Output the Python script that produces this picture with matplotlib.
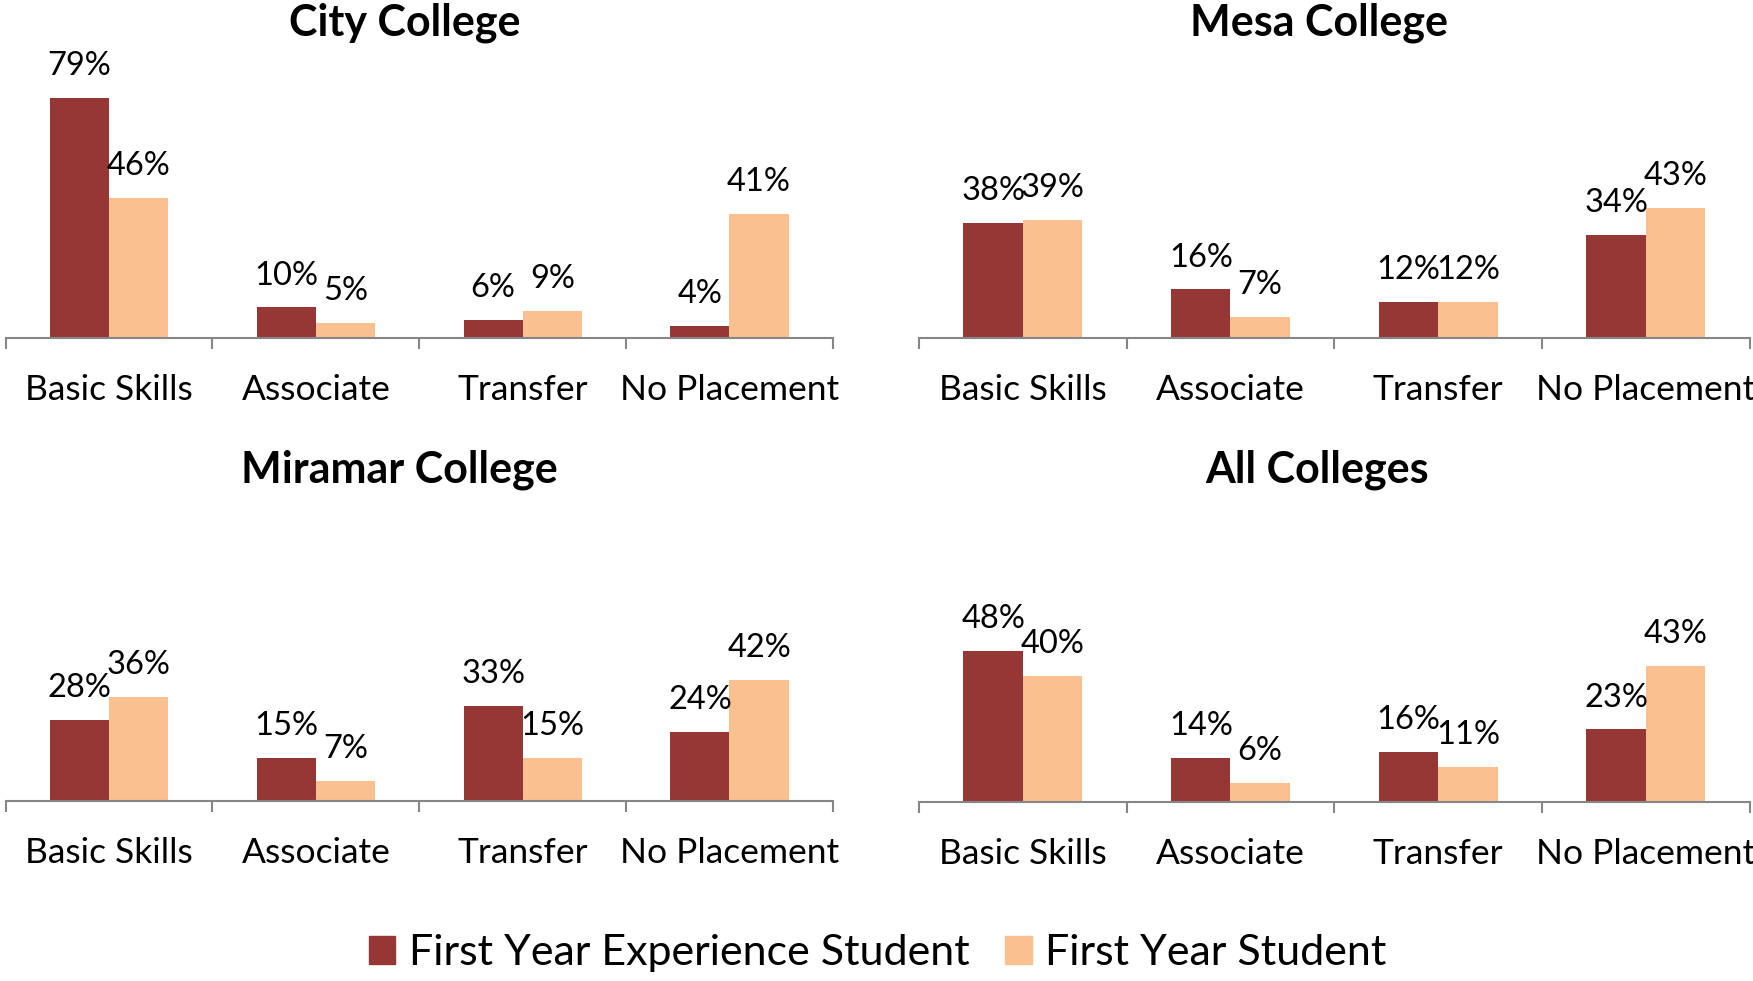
import matplotlib
matplotlib.use("Agg")
import matplotlib.pyplot as plt
from matplotlib.patches import Patch

plt.rcParams['font.family'] = ['Lato', 'DejaVu Sans']

# datos
categorias = ['Basic Skills', 'Associate', 'Transfer', 'No Placement']
series = ['First Year Experience Student', 'First Year Student']
colegios = ['City College', 'Mesa College', 'Miramar College', 'All Colleges']

city_fye = [79, 10, 6, 4]
city_fy = [46, 5, 9, 41]
mesa_fye = [38, 16, 12, 34]
mesa_fy = [39, 7, 12, 43]
miramar_fye = [28, 15, 33, 24]
miramar_fy = [36, 7, 15, 42]
all_fye = [48, 14, 16, 23]
all_fy = [40, 6, 11, 43]

valores = {
    'City College': (city_fye, city_fy),
    'Mesa College': (mesa_fye, mesa_fy),
    'Miramar College': (miramar_fye, miramar_fy),
    'All Colleges': (all_fye, all_fy),
}

colores = ['#953735', '#FAC090']
gris = '#868686'

W, H = 1568.0, 877.0  # coordenadas de la imagen de referencia
# (izquierda, derecha, base, pixeles por %, centro titulo x, titulo y)
paneles = {
    'City College': (5, 745, 302, 2.71, 362, 20),
    'Mesa College': (822, 1565, 302, 2.70, 1180, 20),
    'Miramar College': (5, 745, 716, 2.58, 357, 420),
    'All Colleges': (822, 1565, 717, 2.82, 1178, 420),
}
alto_px = 250

fig = plt.figure(figsize=(17.53, 9.81), dpi=100)

ancho = 0.286
for nombre in colegios:
    x0, x1, base, escala, tx, ty = paneles[nombre]
    ax = fig.add_axes([x0 / W, 1 - base / H, (x1 - x0) / W, alto_px / H])
    fye, fy = valores[nombre]
    pos = range(len(categorias))
    b1 = ax.bar([p - ancho / 2 for p in pos], fye, ancho, color=colores[0])
    b2 = ax.bar([p + ancho / 2 for p in pos], fy, ancho, color=colores[1])
    for barras, vals in ((b1, fye), (b2, fy)):
        for b, v in zip(barras, vals):
            ax.annotate(f'{v}%', (b.get_x() + b.get_width() / 2, v),
                        xytext=(0, 23), textcoords='offset points',
                        ha='center', va='center', fontsize=23.5)
    ax.set_xlim(-0.5, 3.5)
    ax.set_ylim(0, alto_px / escala)
    for lado in ['top', 'right', 'left']:
        ax.spines[lado].set_visible(False)
    ax.spines['bottom'].set_color(gris)
    ax.spines['bottom'].set_linewidth(1.5)
    ax.set_yticks([])
    ax.set_xticks(list(pos))
    ax.set_xticklabels(categorias, fontsize=25.5)
    ax.set_xticks([-0.5, 0.5, 1.5, 2.5, 3.5], minor=True)
    ax.tick_params(axis='x', which='major', length=0, pad=26)
    ax.tick_params(axis='x', which='minor', length=8, width=1.5, color=gris, direction='out')
    ax.patch.set_visible(False)
    fig.text(tx / W, 1 - ty / H, nombre, ha='center', va='center',
             fontsize=31, fontweight='bold')

handles = [Patch(color=c, label=s) for c, s in zip(colores, series)]
fig.legend(handles=handles, loc='center', bbox_to_anchor=(785 / W, 1 - 852 / H),
           ncol=2, frameon=False, fontsize=31, handlelength=0.62, handleheight=0.62,
           handletextpad=0.31, columnspacing=0.83)

fig.savefig('out.png', dpi=100)
